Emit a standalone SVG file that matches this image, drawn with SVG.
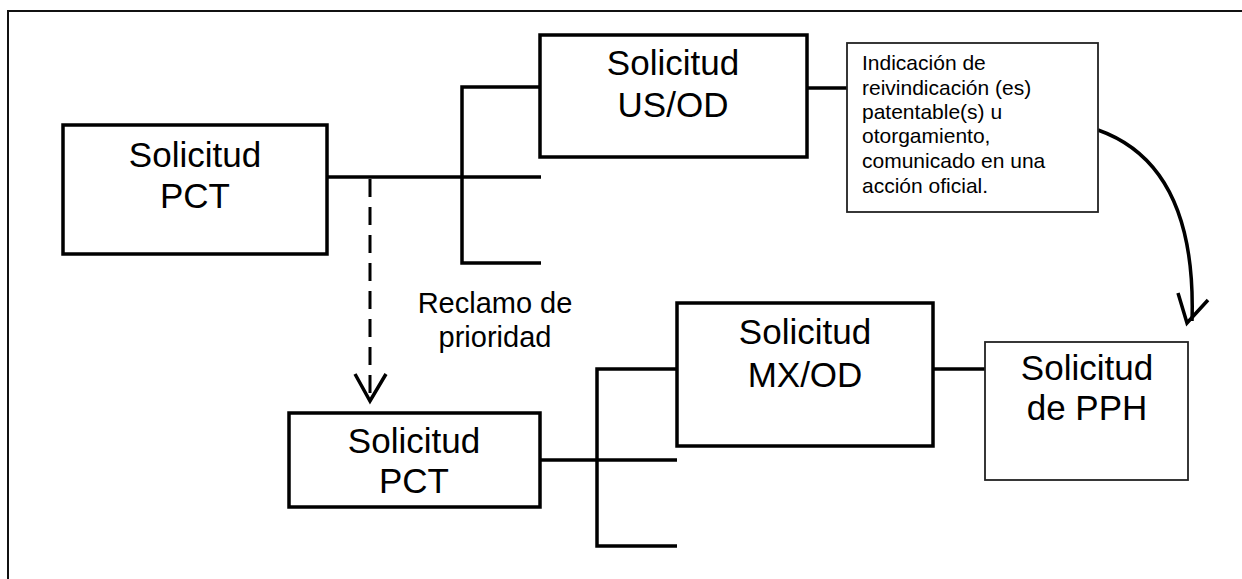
<svg xmlns="http://www.w3.org/2000/svg" width="1242" height="579" viewBox="0 0 1242 579">
<style>
.bg{fill:#fff}
.frame{fill:none;stroke:#111;stroke-width:2}
.box{fill:#fff;stroke:#000;stroke-width:3.5}
.thin{fill:#fff;stroke:#222;stroke-width:1.8}
.ln{fill:none;stroke:#000;stroke-width:3.5;stroke-linecap:butt}
.dash{fill:none;stroke:#000;stroke-width:3;stroke-dasharray:18 10}
.t{font-family:"Liberation Sans",Arial,sans-serif;fill:#000;text-anchor:middle}
.big{font-size:35px}
.mid{font-size:29px}
.small{font-family:"Liberation Sans",Arial,sans-serif;fill:#000;font-size:21px}
</style>
<rect class="bg" x="0" y="0" width="1242" height="579"/>
<rect class="frame" x="8" y="11" width="1250" height="590"/>

<g id="connectors">
  <path class="ln" d="M315,177 H541"/>
  <path class="ln" d="M540,87 H462 V263 H541"/>
  <path class="ln" d="M793,88 H847"/>
  <path class="dash" d="M370,179 V399"/>
  <path class="ln" d="M355,374 L370,401 L386,374" stroke-width="3"/>
  <path class="ln" d="M1098,130 Q1197,165 1192,321"/>
  <path class="ln" d="M1178,293 L1187,323 L1208,300"/>
  <path class="ln" d="M540,460 H677"/>
  <path class="ln" d="M677,369 H597 V546 H677"/>
  <path class="ln" d="M928,369 H985" stroke-width="3"/>
</g>

<g id="pct1">
  <rect class="box" x="63" y="125" width="264" height="129"/>
  <text class="t big" x="195" y="167">Solicitud</text>
  <text class="t big" x="195" y="208">PCT</text>
</g>

<g id="usod">
  <rect class="box" x="540" y="35" width="267" height="122"/>
  <text class="t big" x="673" y="75">Solicitud</text>
  <text class="t big" x="673" y="117">US/OD</text>
</g>

<g id="info">
  <rect class="thin" x="847" y="43" width="251" height="169"/>
  <text class="small" x="862" y="70">Indicación de</text>
  <text class="small" x="862" y="95">reivindicación (es)</text>
  <text class="small" x="862" y="119">patentable(s) u</text>
  <text class="small" x="862" y="143">otorgamiento,</text>
  <text class="small" x="862" y="168">comunicado en una</text>
  <text class="small" x="862" y="193">acción oficial.</text>
</g>

<g id="reclamo">
  <text class="t mid" x="495" y="313">Reclamo de</text>
  <text class="t mid" x="495" y="347">prioridad</text>
</g>

<g id="pct2">
  <rect class="box" x="289" y="413" width="251" height="94"/>
  <text class="t big" x="414" y="453">Solicitud</text>
  <text class="t big" x="414" y="493">PCT</text>
</g>

<g id="mxod">
  <rect class="box" x="677" y="303" width="256" height="143"/>
  <text class="t big" x="805" y="344">Solicitud</text>
  <text class="t big" x="805" y="387">MX/OD</text>
</g>

<g id="pph">
  <rect class="thin" x="985" y="342" width="203" height="138"/>
  <text class="t big" x="1087" y="380">Solicitud</text>
  <text class="t big" x="1087" y="420">de PPH</text>
</g>
</svg>
